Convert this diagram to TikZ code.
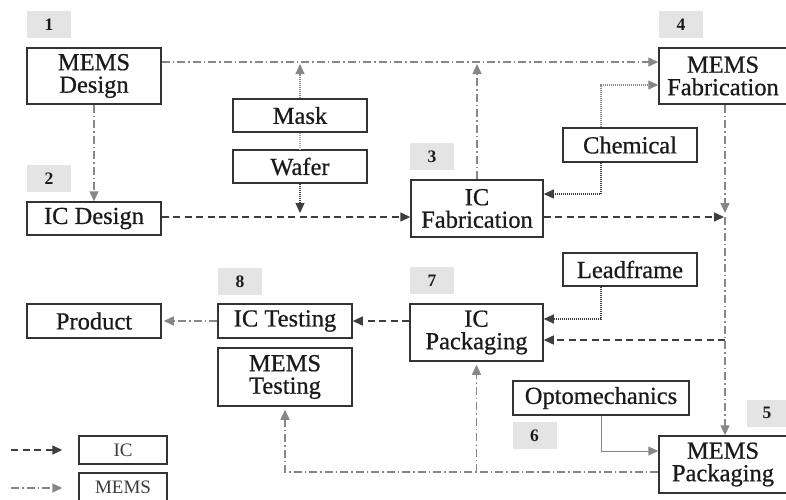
\documentclass[tikz,border=0pt]{standalone}
\usepackage{fontspec}
\setmainfont{Liberation Serif}
\newfontfamily\boxfont{Liberation Serif}[FakeBold=0.6]
\usetikzlibrary{arrows.meta,calc}

\definecolor{boxc}{HTML}{333333}
\definecolor{textc}{HTML}{1A1A1A}
\definecolor{numc}{HTML}{E4E4E4}
\definecolor{icc}{HTML}{3E3E3E}
\definecolor{memsc}{HTML}{878787}
\definecolor{matlight}{HTML}{A8A8A8}
\definecolor{matdark}{HTML}{707070}

\begin{document}
\begin{tikzpicture}[x=1pt,y=-1pt,
  box/.style={draw=boxc, line width=1.5pt, fill=white, inner sep=0pt, align=center,
    font=\boxfont\fontsize{24.5}{22.5}\selectfont, text=textc},
  legbox/.style={draw=boxc, line width=1.4pt, fill=white, inner sep=0pt,
    minimum width=88pt, minimum height=28pt, font=\fontsize{19}{19}\selectfont, text=textc!85},
  num/.style={fill=numc, inner sep=0pt, minimum width=44pt, minimum height=27pt,
    font=\fontsize{17.5}{17.5}\selectfont\bfseries, text=textc},
  tip/.style={-{Triangle[length=10pt,width=9pt]}},
  icline/.style={draw=icc, line width=1.5pt, dash pattern=on 7pt off 4.5pt, tip},
  memsline/.style={draw=memsc, line width=1.4pt, dash pattern=on 8pt off 3pt on 1.5pt off 3pt, tip},
  matlightline/.style={draw=matlight, line width=1.2pt, dash pattern=on 1.2pt off 0.8pt},
  matdarkline/.style={draw=matdark, line width=1.2pt, dash pattern=on 1.2pt off 0.8pt},
  optoline/.style={draw=memsc, line width=1pt, tip},
]
\useasboundingbox (0,0) rectangle (786,499);
\clip (0,0) rectangle (786,499);

% step numbers
\node[num] (n1) at (49,24.5) {1};
\node[num] (n2) at (49,178.5) {2};
\node[num] (n3) at (432,156.5) {3};
\node[num] (n4) at (681,24.5) {4};
\node[num, minimum width=40pt] (n5) at (767,413) {5};
\node[num] (n6) at (534.5,435.5) {6};
\node[num] (n7) at (432,280.5) {7};
\node[num] (n8) at (240,281.5) {8};

% process and material boxes
\node[box, minimum width=134pt, minimum height=56pt] (memsdes) at (94,76) {MEMS\\Design};
\node[box, minimum width=134pt, minimum height=33pt] (icdes) at (94,218.5) {IC Design};
\node[box, minimum width=134pt, minimum height=33pt] (mask) at (300,115.5) {Mask};
\node[box, minimum width=134pt, minimum height=33pt] (wafer) at (300,166.5) {Wafer};
\node[box, minimum width=132pt, minimum height=57pt] (icfab) at (477,208.5) {IC\\Fabrication};
\node[box, minimum width=134pt, minimum height=34pt] (chem) at (630,145) {Chemical};
\node[box, minimum width=128pt, minimum height=56pt] (memsfab) at (723,76) {MEMS\\Fabrication};
\node[box, minimum width=134pt, minimum height=33pt] (lead) at (630,269.5) {Leadframe};
\node[box, minimum width=133pt, minimum height=57pt] (icpack) at (476.5,332.5) {IC\\Packaging};
\node[box, minimum width=176pt, minimum height=34pt] (opto) at (601,398) {Optomechanics};
\node[box, minimum width=128pt, minimum height=57pt] (memspack) at (723,464.5) {MEMS\\Packaging};
\node[box, minimum width=134pt, minimum height=34pt] (product) at (94,321) {Product};
\node[box, minimum width=134pt, minimum height=34pt] (ictest) at (285,321) {IC Testing};
\node[box, minimum width=134pt, minimum height=58pt] (memstest) at (285,377) {MEMS\\Testing};

% legend
\node[legbox] (legic) at (123,450) {IC};
\node[legbox] (legmems) at (123,487) {MEMS};

% junction on the right-hand trunk and the ports beside the boxes
\coordinate (J) at (725,217);
\coordinate (mtop) at (0,64);
\coordinate (fabin) at ([yshift=-8.5pt]icfab.west);
\coordinate (packout) at ([yshift=-7.5pt]memspack.west);
\coordinate (packin) at ([yshift=-7.5pt]icpack.east);

% MEMS flow
\draw[memsline] ([yshift=14pt]memsdes.east) -- ([yshift=14pt]memsfab.west);
\draw[memsline] (memsdes.south) -- (icdes.north);
\draw[memsline] (icfab.north) -- (icfab.north |- mtop);
\draw[memsline] (memsfab.south -| J) -- ([yshift=4pt]J);
\draw[memsline] (J) -- (memspack.north -| J);
\draw[memsline] (packout) -| ([yshift=-3pt]memstest.south);
\draw[memsline] (icpack.south |- packout) -- ([yshift=-3pt]icpack.south);
\draw[memsline] (ictest.west) -- ([xshift=2pt]product.east);

% IC flow
\draw[icline] (icdes.east |- fabin) -- (fabin);
\draw[icline] ([yshift=-8.5pt]icfab.east) -- ([xshift=-1pt]J);
\draw[icline] (J |- packin) -- (packin);
\draw[icline] (ictest.east -| icpack.west) -- (ictest.east);

% material supplies
\draw[matlightline, tip, memsc] (mask.north) -- (mask.north |- mtop);
\draw[matlightline] (mask.south) -- (wafer.north);
\draw[matdarkline, tip, icc] (wafer.south) -- ([yshift=4pt]wafer.south |- fabin);
\draw[matlightline, tip, memsc] ([xshift=-29pt]chem.north) |- ([yshift=-9pt]memsfab.west);
\draw[matdarkline, tip, icc] ([xshift=-29pt]chem.south) |- ([yshift=14.5pt]icfab.east);
\draw[matdarkline, tip, icc] ([xshift=-29pt]lead.south) |- ([yshift=13.5pt]icpack.east);
\draw[optoline] (opto.south) |- ([yshift=13.5pt]memspack.west);

% legend keys
\draw[icline] ([xshift=-67pt]legic.west) -- ([xshift=-16pt]legic.west);
\draw[memsline] ([xshift=-67pt,yshift=-1pt]legmems.west) -- ([xshift=-16pt,yshift=-1pt]legmems.west);
\end{tikzpicture}
\end{document}
